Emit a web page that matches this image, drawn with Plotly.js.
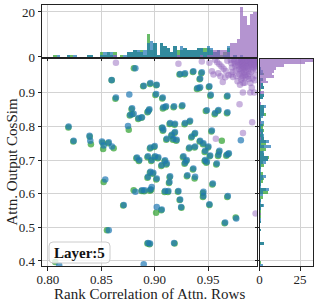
<!DOCTYPE html>
<html>
<head>
<meta charset="utf-8">
<script src="https://cdn.plot.ly/plotly-3.0.1.min.js"></script>
<style>html,body{margin:0;padding:0;background:#fff;}#chart{width:319px;height:305px;}</style>
</head>
<body>
<div id="chart"></div>
<script>
// ---- data ----
const blueX = [0.8819,0.8597,0.8897,0.896,0.8762,0.8637,0.8788,0.8803,0.885,0.8881,0.8772,0.895,0.8937,0.8194,0.875,0.8241,0.839,0.8397,0.8506,0.8522,0.857,0.86,0.896,0.8834,0.8856,0.8937,
0.9238,0.9284,0.9362,0.9441,0.9425,0.9425,0.94,0.9512,0.9019,0.9525,0.9681,0.9013,0.9075,0.9081,0.9106,0.9181,0.9259,0.9488,0.9566,0.9597,0.9681,0.9331,0.9284,0.9144,0.919,0.9072,0.9081,0.9535,
0.9113,0.916,0.9175,0.9206,0.919,0.9347,0.9378,0.9425,0.9456,0.9325,0.9378,0.900,0.9503,0.9606,0.9597,0.9519,0.9675,0.9694,0.9472,0.9269,0.9003,0.9034,0.9097,0.93,0.9472,0.9806,
0.8537,0.896,0.8937,0.8819,0.8881,0.8906,0.896,0.871,0.857,0.8937,0.8106,0.8897,
0.8972,0.9066,0.9113,0.9284,0.9362,0.9488,0.9581,0.8987,0.9019,0.9144,0.9138,0.9306,0.9378,0.9544,0.8972,0.9097,0.9128,0.9222,0.9456,0.9456,0.9684,0.9238,0.9247,0.9512,0.9019,0.9066,0.9659,0.9763,0.8956,0.9181];
const blueY = [0.9726,0.938,0.921,0.929,0.895,0.886,0.854,0.8375,0.8247,0.827,0.8345,0.851,0.8446,0.80,0.801,0.757,0.772,0.757,0.755,0.743,0.753,0.74,0.7375,0.7077,0.70,0.711,
0.956,0.958,0.964,0.961,0.942,0.916,0.914,0.919,0.924,0.894,0.891,0.896,0.886,0.8566,0.8595,0.8595,0.8625,0.8476,0.8396,0.849,0.8417,0.8167,0.81,0.81,0.808,0.797,0.79,0.788,
0.763,0.775,0.763,0.76,0.783,0.77,0.78,0.757,0.75,0.7375,0.74,0.742,0.74,0.7274,0.7155,0.7137,0.7155,0.7205,0.7274,0.711,0.711,0.708,0.699,0.70,0.70,0.759,
0.642,0.665,0.65,0.6054,0.61,0.61,0.6125,0.566,0.491,0.4536,0.387,0.39,
0.70,0.685,0.69,0.6917,0.675,0.6946,0.69,0.662,0.645,0.652,0.635,0.655,0.65,0.63,0.62,0.608,0.608,0.608,0.6054,0.593,0.593,0.583,0.5607,0.5688,0.5607,0.553,0.514,0.526,0.452,0.4536];

const greenX = [0.8805,0.8597,0.8892,0.8955,0.8632,0.8783,0.8790,0.8845,0.8876,0.8766,0.8945,0.8932,0.8192,0.8757,0.8238,0.8392,0.8403,0.8512,0.8517,0.8565,0.8616,0.8955,0.8828,0.8851,0.8932,
0.9232,0.9279,0.9357,0.9436,0.9420,0.9418,0.9395,0.9507,0.9014,0.9520,0.9676,0.9006,0.9070,0.9076,0.9101,0.9176,0.9254,0.9478,0.9561,0.9592,0.9676,0.9326,0.9279,0.9139,0.9185,0.9067,0.9076,0.9530,
0.9108,0.9155,0.9170,0.9201,0.9185,0.9342,0.9373,0.9420,0.9451,0.9320,0.9373,0.8995,0.9498,0.9601,0.9592,0.9514,0.9670,0.9689,0.9467,0.9264,0.8998,0.9029,0.9092,0.9295,0.9467,0.9628,
0.8522,0.8955,0.8932,0.8803,0.8876,0.8901,0.8955,0.8705,0.8553,0.8932,0.8069,
0.8967,0.9061,0.9108,0.9279,0.9357,0.9483,0.9576,0.8982,0.9014,0.9139,0.9133,0.9301,0.9373,0.9539,0.8967,0.9092,0.9123,0.9217,0.9451,0.9451,0.9679,0.9233,0.9250,0.9512,0.9013,0.9061,0.9654,0.9758,0.8951,0.9186];
const greenY = [0.9726,0.937,0.919,0.926,0.882,0.851,0.836,0.822,0.826,0.832,0.848,0.842,0.797,0.79,0.755,0.769,0.747,0.751,0.733,0.750,0.735,0.734,0.705,0.697,0.708,
0.954,0.955,0.962,0.958,0.940,0.913,0.911,0.917,0.922,0.891,0.889,0.893,0.883,0.853,0.857,0.857,0.860,0.846,0.836,0.846,0.839,0.814,0.806,0.807,0.805,0.795,0.787,0.785,
0.760,0.772,0.760,0.757,0.780,0.767,0.777,0.755,0.747,0.734,0.737,0.739,0.737,0.724,0.712,0.711,0.713,0.718,0.724,0.708,0.708,0.705,0.696,0.697,0.697,0.757,
0.635,0.662,0.647,0.61,0.608,0.607,0.609,0.565,0.491,0.452,0.397,
0.697,0.682,0.687,0.689,0.672,0.692,0.687,0.659,0.642,0.649,0.632,0.652,0.645,0.627,0.612,0.605,0.605,0.606,0.602,0.590,0.590,0.581,0.558,0.566,0.543,0.551,0.512,0.529,0.450,0.452];

const purpleX = [0.8637,0.9222,0.9441,0.9512,0.9535,0.955,0.9572,0.9637,0.9715,0.9775,0.9798,0.9794,0.9825,0.9829,0.9826,0.9894,0.9896,0.9912,0.9931,0.9944,
0.9565,0.9585,0.9605,0.9625,0.9645,0.9665,0.9595,0.9615,0.9660,0.9690,0.9680,
0.9712,0.9718,0.9723,0.9728,0.9733,
0.9742,0.9746,0.9750,0.9755,0.9759,0.9764,
0.9772,0.9777,0.9782,0.9787,0.9792,
0.9812,0.9804,0.9821,0.9808,0.9826,0.9815,0.9803,0.9823,0.9810,0.9818,0.9806,0.9827,0.9813,0.9820,0.9805,0.9816,0.9824,0.9809,0.9819,
0.9838,0.9851,0.9843,0.9857,0.9835,0.9847,0.9855,0.9840,0.9849,0.9836,0.9858,0.9844,0.9852,0.9839,0.9846,0.9854,0.9842,0.9848,
0.9868,0.9882,0.9874,0.9887,0.9866,0.9879,0.9885,0.9871,0.9877,0.9869,0.9883,0.9875,0.9880,0.9870,
0.9900,0.9914,0.9907,0.9920,0.9898,0.9911,0.9917,0.9903,0.9909,0.9921,0.9905,0.9913,0.9918,0.9902,0.9915,0.9908,
0.9930,0.9945,0.9937,0.9951,0.9933,0.9941,0.9948,0.9929,0.9943,0.9935,0.9950,0.9939,0.9946,0.9932,0.9952,0.9940,0.9936,0.9939];
const purpleY = [0.989,0.986,0.993,0.989,0.964,0.954,0.763,0.932,0.954,0.934,0.924,0.866,0.901,0.929,0.78,0.901,0.929,0.812,0.901,0.541,
0.998,0.991,0.985,0.978,0.971,0.965,0.958,0.949,0.946,0.952,0.995,
0.997,0.988,0.975,0.962,0.947,
0.999,0.993,0.986,0.979,0.967,0.950,
0.996,0.990,0.982,0.970,0.955,
0.999,0.998,0.996,0.995,0.993,0.991,0.989,0.987,0.985,0.983,0.980,0.977,0.974,0.970,0.965,0.958,0.949,0.939,0.945,
0.999,0.997,0.995,0.994,0.990,0.988,0.986,0.985,0.982,0.979,0.977,0.973,0.966,0.961,0.953,0.946,0.930,0.998,
0.998,0.996,0.994,0.991,0.989,0.986,0.981,0.978,0.972,0.963,0.956,0.948,0.941,0.997,
0.999,0.998,0.996,0.995,0.993,0.990,0.988,0.987,0.985,0.983,0.979,0.975,0.969,0.962,0.942,0.915,
0.999,0.998,0.997,0.996,0.995,0.994,0.993,0.991,0.990,0.988,0.986,0.984,0.980,0.976,0.968,0.951,0.937,0.999];

const xTicks = [0.80,0.85,0.90,0.95];
const yTicks = [0.4,0.5,0.6,0.7,0.8,0.9];
const topHistTicks = [0,20];
const rightHistTicks = [0,25];
const xTitle = 'Rank Correlation of Attn. Rows';
const yTitle = 'Attn. Output CosSim';
const boxLabel = 'Layer:5';

// ---- styling ----
const C_GREEN = '#2ca02c', C_BLUE = '#1f77b4', C_PURPLE = '#9467bd';
const FONT = 'Liberation Serif, Times New Roman, serif';
const INK = '#222';
const GRID = '#d3d3d3';
const xbins = {start:0.80212, end:1.0, size:0.00312};
const ybins = {start:0.384, end:1.008, size:0.008};

function sc(x, y, c, op){
  return {type:'scatter', mode:'markers', x:x, y:y, xaxis:'x', yaxis:'y',
    marker:{color:c, size:6.5, opacity:op, line:{width:0}}, hoverinfo:'skip', showlegend:false};
}
function hx(x, c){
  return {type:'histogram', x:x, xaxis:'x2', yaxis:'y2', xbins:xbins, autobinx:false,
    marker:{color:c, line:{width:0}}, opacity:0.7, showlegend:false, hoverinfo:'skip'};
}
function hy(y, c){
  return {type:'histogram', y:y, xaxis:'x3', yaxis:'y3', ybins:ybins, autobiny:false,
    marker:{color:c, line:{width:0}}, opacity:0.7, showlegend:false, hoverinfo:'skip'};
}

const data = [
  sc(greenX, greenY, C_GREEN, 0.7), sc(blueX, blueY, C_BLUE, 0.7), sc(purpleX, purpleY, C_PURPLE, 0.5),
  hx(greenX, C_GREEN), hx(blueX, C_BLUE), hx(purpleX, C_PURPLE),
  hy(greenY, C_GREEN), hy(blueY, C_BLUE), hy(purpleY, C_PURPLE)
];

const XR = [0.7945, 0.9962], YR = [0.385, 1.0003];
const axBase = {showline:true, mirror:true, linecolor:INK, linewidth:1, showgrid:true, gridcolor:GRID, gridwidth:1,
  zeroline:false, ticks:'outside', ticklen:3.5, tickwidth:1, tickcolor:INK,
  tickfont:{family:FONT, size:13, color:INK}, automargin:false, fixedrange:true};

// paper-coordinate helpers (plot area is 271 x 261 px inside the margins)
const W = 271, H = 261;
const bx0 = 7/W, bx1 = 68/W, by0 = 3/H, by1 = 24/H, rx = 4/W, ry = 4/H;
const boxPath = `M ${bx0+rx},${by0} L ${bx1-rx},${by0} Q ${bx1},${by0} ${bx1},${by0+ry} L ${bx1},${by1-ry} Q ${bx1},${by1} ${bx1-rx},${by1} L ${bx0+rx},${by1} Q ${bx0},${by1} ${bx0},${by1-ry} L ${bx0},${by0+ry} Q ${bx0},${by0} ${bx0+rx},${by0} Z`;
const titleFont = {family:FONT, size:15, color:INK};

const layout = {
  width:319, height:305, margin:{l:42, r:6, t:5, b:39, pad:0},
  paper_bgcolor:'#fff', plot_bgcolor:'#fff', barmode:'overlay', bargap:0, showlegend:false,
  font:{family:FONT, color:INK},
  xaxis:Object.assign({}, axBase, {domain:[0,0.7952], range:XR, tickvals:xTicks, tickformat:'.2f', anchor:'y', ticklabelstandoff:-2}),
  yaxis:Object.assign({}, axBase, {domain:[0,0.7931], range:YR, tickvals:yTicks, tickformat:'.1f', anchor:'x'}),
  xaxis2:Object.assign({}, axBase, {domain:[0,0.7952], range:XR, tickvals:xTicks, showticklabels:false, anchor:'y2'}),
  yaxis2:Object.assign({}, axBase, {domain:[0.8008,1], range:[0,23.1], tickvals:topHistTicks, anchor:'x2'}),
  xaxis3:Object.assign({}, axBase, {domain:[0.8026,1], range:[0,33], tickvals:rightHistTicks, anchor:'y3', ticklabelstandoff:-2}),
  yaxis3:Object.assign({}, axBase, {domain:[0,0.7931], range:YR, tickvals:yTicks, showticklabels:false, anchor:'x3'}),
  shapes:[{type:'path', xref:'paper', yref:'paper', path:boxPath, layer:'above',
    line:{color:'#cccccc', width:1}, fillcolor:'rgba(255,255,255,0.8)'}],
  annotations:[
    {xref:'paper', yref:'paper', x:37/W, y:13.5/H, text:'<b>'+boxLabel+'</b>', showarrow:false,
     xanchor:'center', yanchor:'middle', font:{family:FONT, size:15, color:'#111'}},
    {xref:'paper', yref:'paper', x:107.75/W, y:-28/H, text:xTitle, showarrow:false, borderpad:0,
     xanchor:'center', yanchor:'middle', font:titleFont},
    {xref:'paper', yref:'paper', x:-31/W, y:103.5/H, text:yTitle, showarrow:false, textangle:-90, borderpad:0,
     xanchor:'center', yanchor:'middle', font:titleFont}
  ]
};

Plotly.newPlot('chart', data, layout, {displayModeBar:false, staticPlot:true});
</script>
</body>
</html>
